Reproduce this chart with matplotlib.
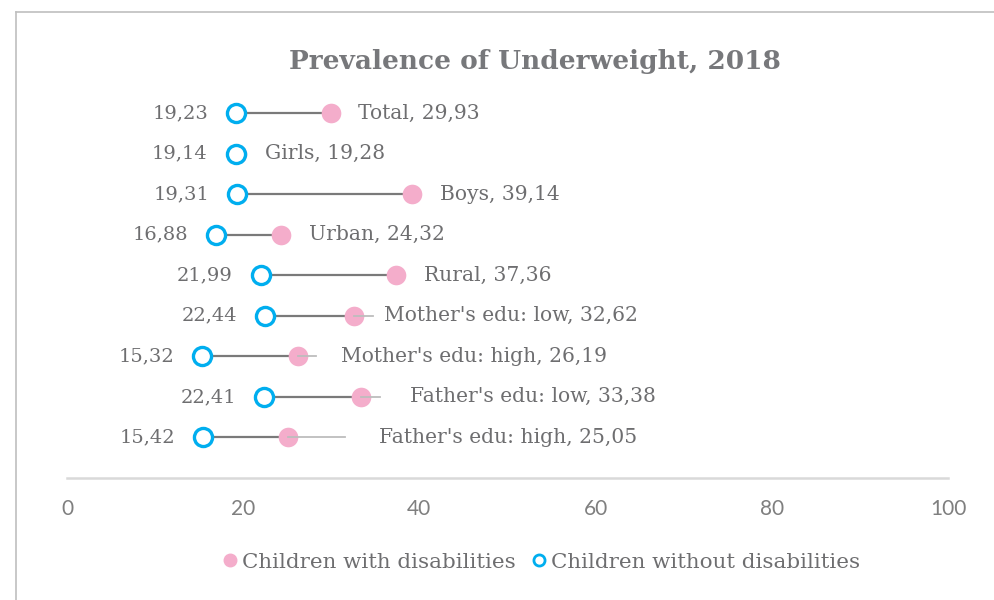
import matplotlib
matplotlib.use("Agg")
import matplotlib.pyplot as plt
from matplotlib.lines import Line2D

categories = ["Total", "Girls", "Boys", "Urban", "Rural",
              "Mother's edu: low", "Mother's edu: high",
              "Father's edu: low", "Father's edu: high"]
with_dis = [29.93, 19.28, 39.14, 24.32, 37.36, 32.62, 26.19, 33.38, 25.05]
without_dis = [19.23, 19.14, 19.31, 16.88, 21.99, 22.44, 15.32, 22.41, 15.42]
# faint grey whisker ends seen to the right of some pink dots
whisker_end = [None, None, None, None, None, 34.7, 28.3, 35.5, 31.6]
xticks = [0, 20, 40, 60, 80, 100]

# label offsets (points) right of the rightmost mark of each row
label_pad = [20, 20, 20, 20, 20, 8, 18, 22, 24]

PINK = "#F4ADCB"
BLUE = "#00AEEF"
GREY_TXT = "#6E6E70"
SERIF = ["DejaVu Serif"]

fig = plt.figure(figsize=(9.95, 6.0), dpi=100)
ax = fig.add_axes([67/995, 1-478/600, (948-67)/995, (478-72.5)/600])

n = len(categories)
ys = [n - i for i in range(n)]

def fmt(v):
    return f"{v:.2f}".replace(".", ",")

for i, y in enumerate(ys):
    a, b = without_dis[i], with_dis[i]
    ax.plot([a, b], [y, y], color="#7A7A7A", lw=1.6, zorder=1, solid_capstyle="butt")
    if whisker_end[i] is not None:
        ax.plot([b, whisker_end[i]], [y, y], color="#BDBDBD", lw=1.3, zorder=3)

ax.scatter(with_dis, ys, s=200, color=PINK, zorder=2, linewidths=0)
ax.scatter(without_dis, ys, s=170, facecolor="white", edgecolor=BLUE, linewidths=2.4, zorder=4)

for i, y in enumerate(ys):
    ax.annotate(fmt(without_dis[i]), (without_dis[i], y), xytext=(-20, 0),
                textcoords="offset points", ha="right", va="center",
                fontsize=14, color=GREY_TXT, family=SERIF)
    right = max(with_dis[i], without_dis[i])
    if whisker_end[i] is not None:
        right = whisker_end[i]
    ax.annotate(f"{categories[i]}, {fmt(with_dis[i])}", (right, y),
                xytext=(label_pad[i], 0), textcoords="offset points",
                ha="left", va="center", fontsize=14.6, color=GREY_TXT, family=SERIF)

ax.set_xlim(0, 100)
ax.set_ylim(0, 10)
ax.set_xticks(xticks)
ax.set_yticks([])
for s in ["top", "right", "left"]:
    ax.spines[s].set_visible(False)
ax.spines["bottom"].set_color("#D9D9D9")
ax.spines["bottom"].set_linewidth(1.8)
ax.tick_params(axis="x", length=0, pad=15, labelsize=15, labelcolor="#7F7F7F")
for lab in ax.get_xticklabels():
    lab.set_family("Lato")

fig.text(535/995, 1-61/600, "Prevalence of Underweight, 2018", ha="center", va="center",
         fontsize=19, fontweight="bold", color="#77787B", family=SERIF)

handles = [
    Line2D([], [], marker="o", ls="none", markersize=9, markerfacecolor=PINK,
           markeredgecolor=PINK, label="Children with disabilities"),
    Line2D([], [], marker="o", ls="none", markersize=8, markerfacecolor="white",
           markeredgecolor=BLUE, markeredgewidth=2, label="Children without disabilities"),
]
fig.legend(handles=handles, loc="center", bbox_to_anchor=(540/995, 1-562/600), ncol=2,
           frameon=False, handletextpad=0.05, columnspacing=0.6, handlelength=1.0,
           prop={"family": SERIF, "size": 15.4}, labelcolor=GREY_TXT)

# outer chart border (top and left edges visible)
fig.add_artist(Line2D([16/995, 16/995], [0, 1-12/600], transform=fig.transFigure,
                      color="#BFBFBF", lw=1.2))
fig.add_artist(Line2D([16/995, 1], [1-12/600, 1-12/600], transform=fig.transFigure,
                      color="#BFBFBF", lw=1.2))

fig.savefig("out.png", dpi=100)
